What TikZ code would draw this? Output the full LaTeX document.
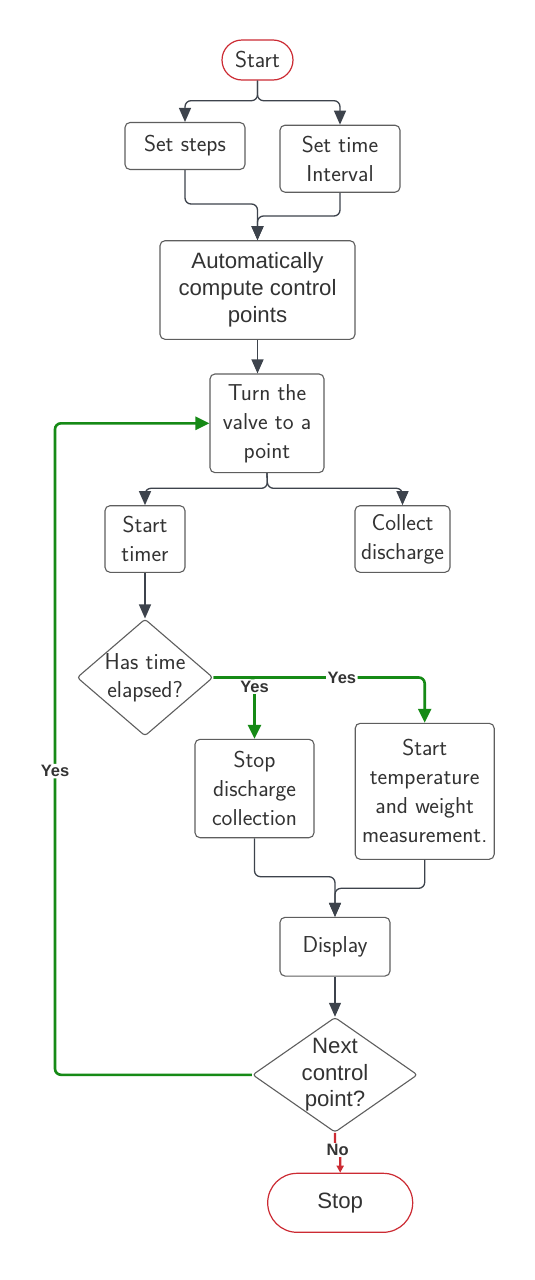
\documentclass[tikz,border=0pt]{standalone}
\usepackage{fontspec}
\newfontfamily\arialf{Liberation Sans}
\usetikzlibrary{arrows.meta,shapes.geometric}
\definecolor{lineg}{HTML}{3D434C}
\definecolor{boxb}{HTML}{5E5E5E}
\definecolor{txt}{HTML}{333333}
\definecolor{grn}{HTML}{168A16}
\definecolor{rd}{HTML}{CC2B33}
\begin{document}
\begin{tikzpicture}[x=1pt,y=-1pt,
 box/.style={draw=boxb, line width=1.1pt, rounded corners=5pt, inner sep=0pt, align=center, text=txt, font=\sffamily\fontsize{23}{29}\selectfont},
 abox/.style={box, font=\arialf\fontsize{22.2}{27}\selectfont},
 term/.style={draw=rd, line width=1.2pt, inner sep=0pt, align=center, text=txt},
 dia/.style={diamond, draw=boxb, line width=1.1pt, rounded corners=3pt, inner sep=0pt},
 dtext/.style={align=center, text=txt, inner sep=0pt},
 conn/.style={draw=lineg, line width=1.3pt, rounded corners=6pt, -{Triangle[length=14pt,width=12pt]}},
 gconn/.style={draw=grn, line width=2.6pt, rounded corners=6pt, -{Triangle[length=14pt,width=13pt]}},
 rconn/.style={draw=rd, line width=2.4pt, -{Triangle[length=7pt,width=7pt]}},
 ylab/.style={fill=white, inner sep=1.5pt, text=txt, font=\arialf\bfseries\fontsize{16.5}{16.5}\selectfont}
]
\useasboundingbox (0,0) rectangle (535,1280);
\fill[white] (0,0) rectangle (535,1280);

% nodes
\node[term, rounded corners=20pt, minimum width=71pt, minimum height=40pt, font=\sffamily\fontsize{23}{29}\selectfont] (start) at (257.5,60) {Start};
\node[box, minimum width=120pt, minimum height=47pt] (steps) at (185,146) {Set steps};
\node[box, minimum width=120pt, minimum height=67pt] (time) at (340,158.7) {Set time\\Interval};
\node[abox, minimum width=195pt, minimum height=98.6pt] (auto) at (257.5,290) {Automatically\\compute control\\points};
\node[box, minimum width=114pt, minimum height=98.7pt] (turn) at (267,423.3) {Turn the\\valve to a\\point};
\node[box, minimum width=80pt, minimum height=66.6pt] (timer) at (145,539) {Start\\timer};
\node[box, minimum width=95pt, minimum height=66.6pt] (collect) at (402.5,539) {Collect\\discharge};
\node[dia, minimum width=136pt, minimum height=117pt] (d1) at (145,677.5) {};
\node[dtext, font=\sffamily\fontsize{23}{28}\selectfont] (d1t) at (d1.center) {Has time\\elapsed?};
\node[box, minimum width=119pt, minimum height=98.4pt] (stopd) at (254.5,788.5) {Stop\\discharge\\collection};
\node[box, minimum width=139pt, minimum height=136pt] (temp) at (424.7,791.3) {Start\\temperature\\and weight\\measurement.};
\node[box, minimum width=110pt, minimum height=58.7pt] (display) at (335,946.7) {Display};
\node[dia, minimum width=165pt, minimum height=115pt] (d2) at (335,1074.8) {};
\node[dtext, font=\arialf\fontsize{22.2}{26.5}\selectfont] (d2t) at (d2.center) {Next\\control\\point?};
\node[term, rounded corners=29.5pt, minimum width=145pt, minimum height=59pt, font=\arialf\fontsize{22.2}{26}\selectfont] (stop) at (340.2,1202.8) {Stop};

% junction coordinates
\coordinate (j1) at (257.5,100.7);
\coordinate (j2) at (257.5,204);
\coordinate (j3) at (257.5,216);
\coordinate (j4) at (267.5,488.3);
\coordinate (j5) at (335,876.7);
\coordinate (j6) at (335,888.3);
\coordinate (j7) at (335,1143);
\coordinate (j8) at (340.2,1157);
\coordinate (lp) at (55,423.3);

% gray connectors
\draw[conn] (start.south) -- (j1) -| (steps.north);
\draw[conn] (start.south) -- (j1) -| (time.north);
\draw[conn] (steps.south) |- (j2) -- (auto.north);
\draw[conn] (time.south) |- (j3) -- (auto.north);
\draw[conn] (auto.south) -- (auto.south |- turn.north);
\draw[conn] (turn.south) -- (j4) -| (timer.north);
\draw[conn] (turn.south) -- (j4) -| (collect.north);
\draw[conn] (timer.south) -- (d1.north);
\draw[conn] (stopd.south) |- (j5) -- (display.north);
\draw[conn] (temp.south) |- (j6) -- (display.north);
\draw[conn] (display.south) -- (d2.north);

% green connectors
\draw[gconn] (d1.east) -| node[pos=0.304, ylab] (y2) {Yes} (temp.north);
\draw[gconn] (d1.east) -| node[pos=0.574, ylab] (y1) {Yes} (stopd.north);
\draw[gconn] (d2.west) -| node[pos=0.733, ylab] (y3) {Yes} (lp) -- (turn.west);

% red connector
\draw[rconn] (d2.south) -- (j7) -- node[pos=0.5, ylab] (n1) {No} (j8) -- (stop.north);
\end{tikzpicture}
\end{document}
